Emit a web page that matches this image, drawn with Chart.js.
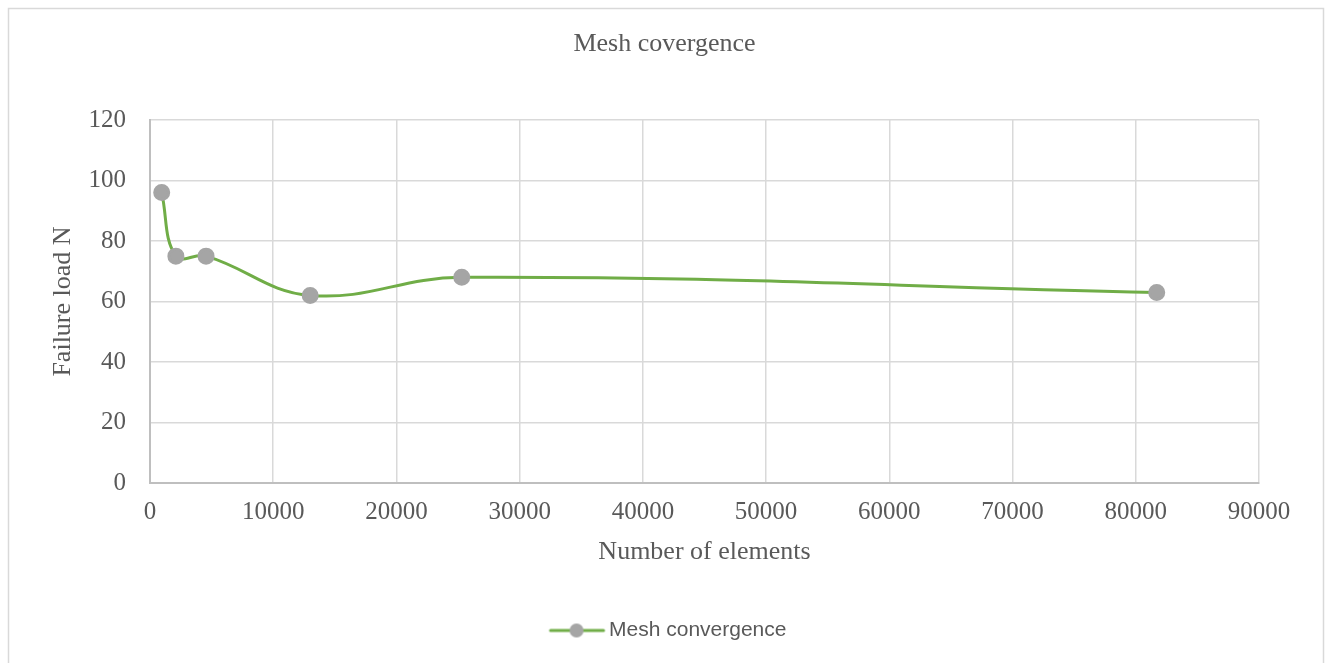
<!DOCTYPE html>
<html>
<head>
<meta charset="utf-8">
<title>Mesh covergence</title>
<script src="https://cdn.jsdelivr.net/npm/chart.js@4/dist/chart.umd.min.js"></script>
<style>
  html, body { margin: 0; padding: 0; background: #ffffff; }
  #wrap { position: relative; width: 1329px; height: 663px; }
</style>
</head>
<body>
<div id="wrap"><canvas id="chart" width="1329" height="663"></canvas></div>
<script>
// Mesh size study: number of elements vs. predicted failure load
const elementCounts = [950, 2100, 4550, 13000, 25300, 81700];
const failureLoads = [96, 75, 75, 62, 68, 63];
const xTicks = [0, 10000, 20000, 30000, 40000, 50000, 60000, 70000, 80000, 90000];
const yTicks = [0, 20, 40, 60, 80, 100, 120];

const seriesName = 'Mesh convergence';
const chartTitle = 'Mesh covergence';
const xTitle = 'Number of elements';
const yTitle = 'Failure load N';

const GREEN = '#70ad47';
const GREY_MARK = '#a5a5a5';
const GRID = '#d9d9d9';
const AXIS = '#bfbfbf';
const TEXT = '#595959';
const SERIF = '"Liberation Serif", "Times New Roman", serif';
const SANS = '"Liberation Sans", Arial, sans-serif';

// Legend swatch: short line with a round marker in the middle
function legendSwatch() {
  const c = document.createElement('canvas');
  c.width = 80; c.height = 16;
  const g = c.getContext('2d');
  g.strokeStyle = GREEN; g.lineWidth = 3; g.lineCap = 'round';
  g.beginPath(); g.moveTo(20, 8); g.lineTo(73, 8); g.stroke();
  g.fillStyle = GREY_MARK;
  g.beginPath(); g.arc(46, 8, 7, 0, Math.PI * 2); g.fill();
  return c;
}
const swatch = legendSwatch();

// Thin frame around the whole chart
const framePlugin = {
  id: 'frame',
  beforeDraw(chart) {
    const ctx = chart.ctx;
    ctx.save();
    ctx.strokeStyle = GRID;
    ctx.lineWidth = 1.5;
    ctx.strokeRect(8.5, 8.5, 1315, 700);
    ctx.restore();
  }
};

const points = elementCounts.map((x, i) => ({ x, y: failureLoads[i] }));

new Chart(document.getElementById('chart'), {
  type: 'line',
  data: {
    datasets: [{
      label: seriesName,
      data: points,
      yAxisID: 'y',
      borderColor: GREEN,
      borderWidth: 3,
      backgroundColor: GREY_MARK,
      pointBackgroundColor: GREY_MARK,
      pointBorderColor: GREY_MARK,
      pointRadius: 7,
      pointHoverRadius: 7,
      tension: 0.4,
      fill: false
    }]
  },
  options: {
    responsive: false,
    animation: false,
    events: [],
    layout: { padding: { left: 0, right: 0, top: 0, bottom: 12 } },
    plugins: {
      title: {
        display: true,
        text: chartTitle,
        color: TEXT,
        font: { family: SERIF, size: 26, weight: 'normal' },
        padding: { top: 28.4, bottom: 60.4 }
      },
      legend: {
        display: true,
        position: 'bottom',
        labels: {
          color: TEXT,
          font: { family: SANS, size: 21 },
          usePointStyle: true,
          pointStyleWidth: 56,
          padding: 10,
          generateLabels(chart) {
            return chart.data.datasets.map((ds, i) => ({
              text: ds.label,
              fontColor: TEXT,
              pointStyle: swatch,
              datasetIndex: i,
              lineWidth: 0,
              hidden: false
            }));
          }
        }
      },
      tooltip: { enabled: false }
    },
    scales: {
      x: {
        type: 'linear',
        min: 0,
        max: 90000,
        afterFit(scale) { scale.height = 127; },
        afterBuildTicks(scale) { scale.ticks = xTicks.map(v => ({ value: v })); },
        grid: { color: GRID, lineWidth: 1.5, drawTicks: false },
        border: { color: AXIS, width: 2 },
        ticks: {
          color: TEXT,
          font: { family: SERIF, size: 25 },
          padding: 14,
          maxRotation: 0,
          autoSkip: false,
          callback: v => String(v)
        },
        title: {
          display: true,
          text: xTitle,
          color: TEXT,
          font: { family: SERIF, size: 26 },
          padding: { top: 0, bottom: 42.4 }
        }
      },
      y: {
        type: 'linear',
        position: 'left',
        min: 0,
        max: 120,
        afterFit(scale) { scale.width = 150; },
        afterBuildTicks(scale) { scale.ticks = yTicks.map(v => ({ value: v })); },
        grid: { color: GRID, lineWidth: 1.5, drawTicks: false },
        border: { color: AXIS, width: 2 },
        ticks: {
          color: TEXT,
          font: { family: SERIF, size: 25 },
          padding: 24,
          callback: v => String(v)
        },
        title: {
          display: true,
          text: yTitle,
          color: TEXT,
          font: { family: SERIF, size: 26 },
          padding: { top: 47.4, bottom: 0 }
        }
      },
      // empty right-hand band that keeps the plot clear of the frame
      yRight: {
        type: 'linear',
        position: 'right',
        min: 0,
        max: 120,
        afterFit(scale) { scale.width = 70; },
        grid: { display: false, drawOnChartArea: false },
        border: { display: false },
        ticks: { display: false }
      }
    }
  },
  plugins: [framePlugin]
});
</script>
</body>
</html>
